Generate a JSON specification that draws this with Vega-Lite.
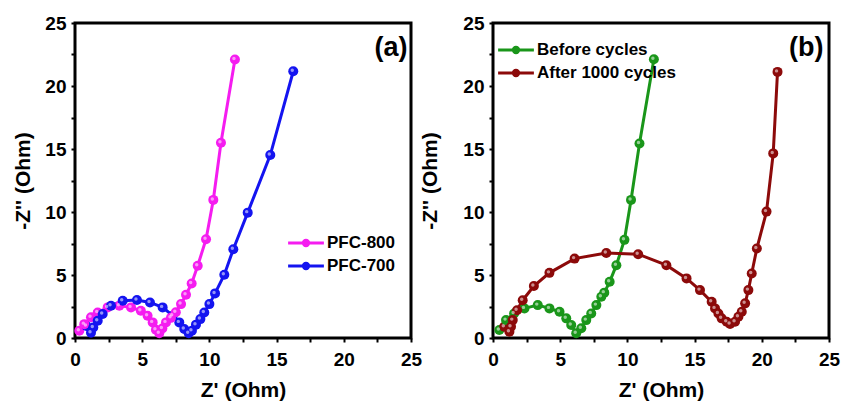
{
  "$schema": "https://vega.github.io/schema/vega-lite/v6.json",
  "background": "white",
  "padding": {"left": 11, "top": 12, "right": 5, "bottom": 0},
  "spacing": 82,
  "bounds": "flush",
  "config": {
    "font": "Liberation Sans",
    "view": {"stroke": "black", "strokeWidth": 3},
    "axis": {
      "domain": false,
      "grid": false,
      "ticks": true,
      "tickColor": "black",
      "tickSize": 4,
      "tickWidth": 2,
      "labelFont": "Liberation Sans",
      "labelFontWeight": "bold",
      "labelFontSize": 19,
      "labelColor": "black",
      "titleFont": "Liberation Sans",
      "titleFontWeight": "bold",
      "titleFontSize": 21,
      "titleColor": "black"
    },
    "legend": {
      "labelFont": "Liberation Sans",
      "labelFontWeight": "bold",
      "labelFontSize": 17,
      "labelColor": "black",
      "title": null
    }
  },
  "datasets": {
    "a": [
      {"series": "PFC-800", "i": 1, "zr": 0.32, "zi": 0.58},
      {"series": "PFC-800", "i": 2, "zr": 0.69, "zi": 1.1},
      {"series": "PFC-800", "i": 3, "zr": 1.19, "zi": 1.64},
      {"series": "PFC-800", "i": 4, "zr": 1.69, "zi": 2.03},
      {"series": "PFC-800", "i": 5, "zr": 2.43, "zi": 2.43},
      {"series": "PFC-800", "i": 6, "zr": 3.3, "zi": 2.56},
      {"series": "PFC-800", "i": 7, "zr": 4.17, "zi": 2.43},
      {"series": "PFC-800", "i": 8, "zr": 4.9, "zi": 2.16},
      {"series": "PFC-800", "i": 9, "zr": 5.4, "zi": 1.77},
      {"series": "PFC-800", "i": 10, "zr": 5.78, "zi": 1.24},
      {"series": "PFC-800", "i": 11, "zr": 6.02, "zi": 0.65},
      {"series": "PFC-800", "i": 12, "zr": 6.27, "zi": 0.37},
      {"series": "PFC-800", "i": 13, "zr": 6.5, "zi": 0.75},
      {"series": "PFC-800", "i": 14, "zr": 6.77, "zi": 1.24},
      {"series": "PFC-800", "i": 15, "zr": 7.14, "zi": 1.6},
      {"series": "PFC-800", "i": 16, "zr": 7.5, "zi": 2.05},
      {"series": "PFC-800", "i": 17, "zr": 7.89, "zi": 2.69},
      {"series": "PFC-800", "i": 18, "zr": 8.26, "zi": 3.43},
      {"series": "PFC-800", "i": 19, "zr": 8.68, "zi": 4.33},
      {"series": "PFC-800", "i": 20, "zr": 9.13, "zi": 5.73},
      {"series": "PFC-800", "i": 21, "zr": 9.75, "zi": 7.84},
      {"series": "PFC-800", "i": 22, "zr": 10.29, "zi": 10.96},
      {"series": "PFC-800", "i": 23, "zr": 10.86, "zi": 15.5},
      {"series": "PFC-800", "i": 24, "zr": 11.9, "zi": 22.1},
      {"series": "PFC-700", "i": 1, "zr": 0.85, "zi": 0.95},
      {"series": "PFC-700", "i": 2, "zr": 1.19, "zi": 0.42},
      {"series": "PFC-700", "i": 3, "zr": 1.36, "zi": 0.84},
      {"series": "PFC-700", "i": 4, "zr": 1.69, "zi": 1.37},
      {"series": "PFC-700", "i": 5, "zr": 2.06, "zi": 1.9},
      {"series": "PFC-700", "i": 6, "zr": 2.68, "zi": 2.56},
      {"series": "PFC-700", "i": 7, "zr": 3.55, "zi": 2.96},
      {"series": "PFC-700", "i": 8, "zr": 4.61, "zi": 3.01},
      {"series": "PFC-700", "i": 9, "zr": 5.58, "zi": 2.82},
      {"series": "PFC-700", "i": 10, "zr": 6.52, "zi": 2.43},
      {"series": "PFC-700", "i": 11, "zr": 7.27, "zi": 1.77},
      {"series": "PFC-700", "i": 12, "zr": 7.76, "zi": 1.24},
      {"series": "PFC-700", "i": 13, "zr": 8.13, "zi": 0.71},
      {"series": "PFC-700", "i": 14, "zr": 8.46, "zi": 0.37},
      {"series": "PFC-700", "i": 15, "zr": 8.7, "zi": 0.58},
      {"series": "PFC-700", "i": 16, "zr": 9.0, "zi": 1.06},
      {"series": "PFC-700", "i": 17, "zr": 9.33, "zi": 1.5},
      {"series": "PFC-700", "i": 18, "zr": 9.62, "zi": 2.03},
      {"series": "PFC-700", "i": 19, "zr": 10.0, "zi": 2.69},
      {"series": "PFC-700", "i": 20, "zr": 10.42, "zi": 3.54},
      {"series": "PFC-700", "i": 21, "zr": 11.11, "zi": 5.02},
      {"series": "PFC-700", "i": 22, "zr": 11.78, "zi": 7.05},
      {"series": "PFC-700", "i": 23, "zr": 12.85, "zi": 9.95},
      {"series": "PFC-700", "i": 24, "zr": 14.53, "zi": 14.52},
      {"series": "PFC-700", "i": 25, "zr": 16.24, "zi": 21.17}
    ],
    "b": [
      {"series": "Before cycles", "i": 1, "zr": 0.47, "zi": 0.63},
      {"series": "Before cycles", "i": 2, "zr": 0.97, "zi": 1.42},
      {"series": "Before cycles", "i": 3, "zr": 1.57, "zi": 1.95},
      {"series": "Before cycles", "i": 4, "zr": 2.34, "zi": 2.35},
      {"series": "Before cycles", "i": 5, "zr": 3.33, "zi": 2.61},
      {"series": "Before cycles", "i": 6, "zr": 4.2, "zi": 2.35},
      {"series": "Before cycles", "i": 7, "zr": 4.95, "zi": 2.08},
      {"series": "Before cycles", "i": 8, "zr": 5.45, "zi": 1.56},
      {"series": "Before cycles", "i": 9, "zr": 5.82, "zi": 1.03},
      {"series": "Before cycles", "i": 10, "zr": 6.19, "zi": 0.37},
      {"series": "Before cycles", "i": 11, "zr": 6.57, "zi": 0.77},
      {"series": "Before cycles", "i": 12, "zr": 6.94, "zi": 1.42},
      {"series": "Before cycles", "i": 13, "zr": 7.31, "zi": 1.95},
      {"series": "Before cycles", "i": 14, "zr": 7.69, "zi": 2.61},
      {"series": "Before cycles", "i": 15, "zr": 8.06, "zi": 3.27},
      {"series": "Before cycles", "i": 16, "zr": 8.28, "zi": 3.6},
      {"series": "Before cycles", "i": 17, "zr": 8.68, "zi": 4.46},
      {"series": "Before cycles", "i": 18, "zr": 9.18, "zi": 5.78},
      {"series": "Before cycles", "i": 19, "zr": 9.78, "zi": 7.79},
      {"series": "Before cycles", "i": 20, "zr": 10.27, "zi": 10.96},
      {"series": "Before cycles", "i": 21, "zr": 10.9, "zi": 15.44},
      {"series": "Before cycles", "i": 22, "zr": 11.97, "zi": 22.12},
      {"series": "After 1000 cycles", "i": 1, "zr": 0.84, "zi": 0.9},
      {"series": "After 1000 cycles", "i": 2, "zr": 1.22, "zi": 0.5},
      {"series": "After 1000 cycles", "i": 3, "zr": 1.34, "zi": 0.9},
      {"series": "After 1000 cycles", "i": 4, "zr": 1.47, "zi": 1.42},
      {"series": "After 1000 cycles", "i": 5, "zr": 1.79, "zi": 2.2},
      {"series": "After 1000 cycles", "i": 6, "zr": 2.21, "zi": 3.0},
      {"series": "After 1000 cycles", "i": 7, "zr": 3.04, "zi": 4.12},
      {"series": "After 1000 cycles", "i": 8, "zr": 4.2, "zi": 5.17},
      {"series": "After 1000 cycles", "i": 9, "zr": 6.07, "zi": 6.3},
      {"series": "After 1000 cycles", "i": 10, "zr": 8.43, "zi": 6.75},
      {"series": "After 1000 cycles", "i": 11, "zr": 10.8, "zi": 6.65},
      {"series": "After 1000 cycles", "i": 12, "zr": 12.9, "zi": 5.78},
      {"series": "After 1000 cycles", "i": 13, "zr": 14.4, "zi": 4.73},
      {"series": "After 1000 cycles", "i": 14, "zr": 15.4, "zi": 3.8},
      {"series": "After 1000 cycles", "i": 15, "zr": 16.27, "zi": 2.87},
      {"series": "After 1000 cycles", "i": 16, "zr": 16.52, "zi": 2.35},
      {"series": "After 1000 cycles", "i": 17, "zr": 16.77, "zi": 1.95},
      {"series": "After 1000 cycles", "i": 18, "zr": 17.01, "zi": 1.56},
      {"series": "After 1000 cycles", "i": 19, "zr": 17.39, "zi": 1.29},
      {"series": "After 1000 cycles", "i": 20, "zr": 17.64, "zi": 1.11},
      {"series": "After 1000 cycles", "i": 21, "zr": 18.01, "zi": 1.29},
      {"series": "After 1000 cycles", "i": 22, "zr": 18.26, "zi": 1.69},
      {"series": "After 1000 cycles", "i": 23, "zr": 18.51, "zi": 2.08},
      {"series": "After 1000 cycles", "i": 24, "zr": 18.76, "zi": 2.75},
      {"series": "After 1000 cycles", "i": 25, "zr": 19.0, "zi": 3.8},
      {"series": "After 1000 cycles", "i": 26, "zr": 19.25, "zi": 5.12},
      {"series": "After 1000 cycles", "i": 27, "zr": 19.63, "zi": 7.1},
      {"series": "After 1000 cycles", "i": 28, "zr": 20.35, "zi": 10.03},
      {"series": "After 1000 cycles", "i": 29, "zr": 20.85, "zi": 14.65},
      {"series": "After 1000 cycles", "i": 30, "zr": 21.17, "zi": 21.12}
    ]
  },
  "resolve": {"scale": {"color": "independent"}, "legend": {"color": "independent"}},
  "hconcat": [
    {
      "width": 336,
      "height": 315,
      "data": {"name": "a"},
      "title": {"text": "(a)", "anchor": "end", "orient": "top", "offset": -48, "dx": -14, "fontSize": 27, "fontWeight": "bold", "font": "Liberation Sans", "color": "black"},
      "encoding": {
        "x": {"field": "zr", "type": "quantitative", "scale": {"domain": [0, 25], "nice": false},
              "axis": {"title": "Z' (Ohm)", "values": [0, 2.5, 5, 7.5, 10, 12.5, 15, 17.5, 20, 22.5, 25], "labelExpr": "datum.value % 5 == 0 ? datum.label : ''", "labelPadding": 8, "titlePadding": 10, "labelFlush": false}},
        "y": {"field": "zi", "type": "quantitative", "scale": {"domain": [0, 25], "nice": false},
              "axis": {"title": "-Z'' (Ohm)", "values": [0, 2.5, 5, 7.5, 10, 12.5, 15, 17.5, 20, 22.5, 25], "labelExpr": "datum.value % 5 == 0 ? datum.label : ''", "labelPadding": 5, "titlePadding": 11, "labelFlush": false}},
        "order": {"field": "i", "type": "quantitative"}
      },
      "layer": [
        {
          "mark": {"type": "line", "strokeWidth": 3, "point": {"filled": true, "size": 100, "opacity": 1}},
          "encoding": {
            "color": {"field": "series", "type": "nominal",
                      "scale": {"domain": ["PFC-800", "PFC-700"], "range": ["#f51cf0", "#1414f0"]},
                      "legend": {"orient": "none", "legendX": 218, "legendY": 207, "symbolType": "M-1.6,0H1.6M0.24,0A0.24,0.24,0,1,1,-0.24,0A0.24,0.24,0,1,1,0.24,0Z", "symbolSize": 500, "symbolStrokeWidth": 3, "rowPadding": 1, "labelOffset": 8}}
          }
        },
        {
          "mark": {"type": "point", "filled": true, "size": 12, "color": "white", "opacity": 0.55, "xOffset": -1, "yOffset": -1}
        }
      ]
    },
    {
      "width": 336,
      "height": 315,
      "data": {"name": "b"},
      "title": {"text": "(b)", "anchor": "end", "orient": "top", "offset": -48, "dx": -16, "fontSize": 27, "fontWeight": "bold", "font": "Liberation Sans", "color": "black"},
      "encoding": {
        "x": {"field": "zr", "type": "quantitative", "scale": {"domain": [0, 25], "nice": false},
              "axis": {"title": "Z' (Ohm)", "values": [0, 2.5, 5, 7.5, 10, 12.5, 15, 17.5, 20, 22.5, 25], "labelExpr": "datum.value % 5 == 0 ? datum.label : ''", "labelPadding": 8, "titlePadding": 10, "labelFlush": false}},
        "y": {"field": "zi", "type": "quantitative", "scale": {"domain": [0, 25], "nice": false},
              "axis": {"title": "-Z'' (Ohm)", "values": [0, 2.5, 5, 7.5, 10, 12.5, 15, 17.5, 20, 22.5, 25], "labelExpr": "datum.value % 5 == 0 ? datum.label : ''", "labelPadding": 5, "titlePadding": 22, "labelFlush": false}},
        "order": {"field": "i", "type": "quantitative"}
      },
      "layer": [
        {
          "mark": {"type": "line", "strokeWidth": 3, "point": {"filled": true, "size": 100, "opacity": 1}},
          "encoding": {
            "color": {"field": "series", "type": "nominal",
                      "scale": {"domain": ["Before cycles", "After 1000 cycles"], "range": ["#1a961a", "#8c0a0a"]},
                      "legend": {"orient": "none", "legendX": 10, "legendY": 14, "symbolType": "M-1.6,0H1.6M0.24,0A0.24,0.24,0,1,1,-0.24,0A0.24,0.24,0,1,1,0.24,0Z", "symbolSize": 500, "symbolStrokeWidth": 3, "rowPadding": 1, "labelOffset": 8}}
          }
        },
        {
          "mark": {"type": "point", "filled": true, "size": 12, "color": "white", "opacity": 0.55, "xOffset": -1, "yOffset": -1}
        }
      ]
    }
  ]
}
